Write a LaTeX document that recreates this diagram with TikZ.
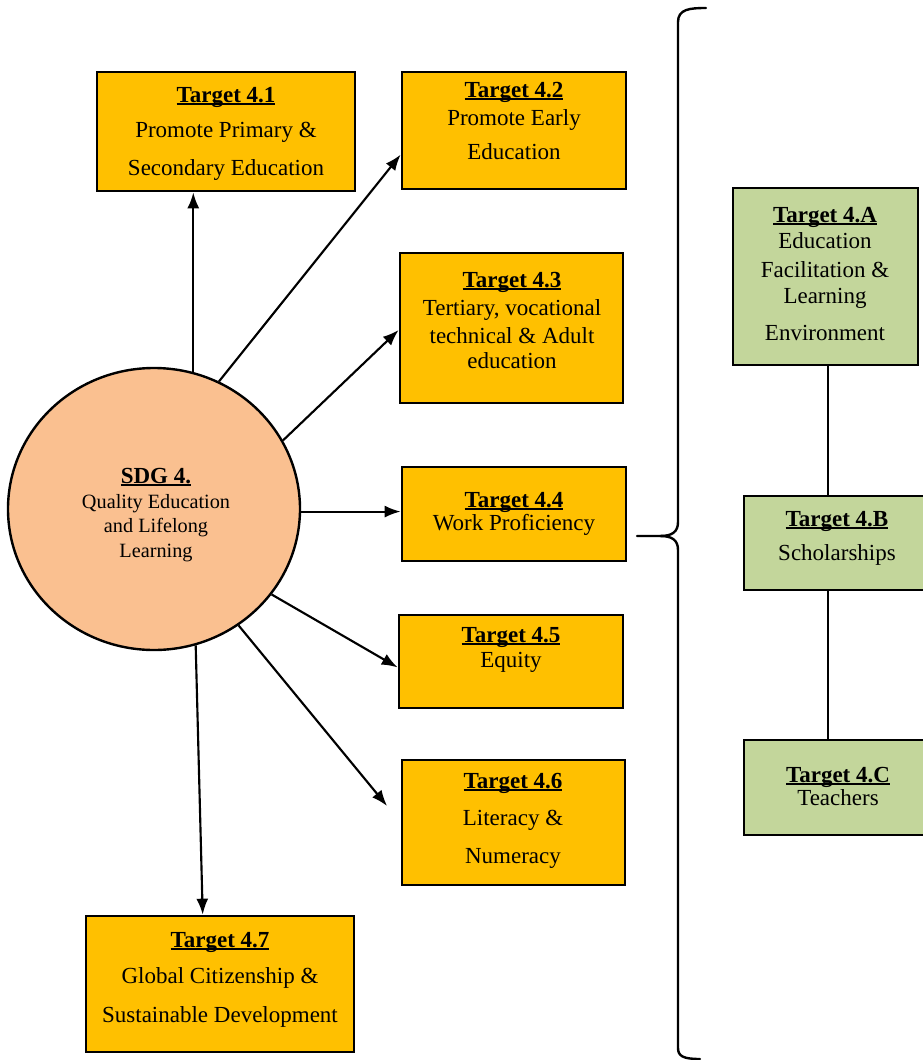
\documentclass[tikz,border=0pt]{standalone}
\usepackage{fontspec}
\setmainfont{LiberationSerif-Regular.ttf}[BoldFont=LiberationSerif-Bold.ttf]
\usetikzlibrary{arrows.meta,shapes.geometric}
\definecolor{goldfill}{HTML}{FFC000}
\definecolor{greenfill}{HTML}{C3D69B}
\definecolor{peachfill}{HTML}{FAC090}
\newsavebox\tulbox
\newcommand\tul[1]{\sbox\tulbox{#1}\rlap{\rule[-0.13em]{\wd\tulbox}{0.07em}}\usebox\tulbox}
\tikzset{
  wh/.style 2 args={minimum width=#1*0.75pt, minimum height=#2*0.75pt},
  ybox/.style={draw, line width=2pt, fill=goldfill, inner sep=0pt},
  gbox/.style={draw, line width=2pt, fill=greenfill, inner sep=0pt},
  ln/.style={anchor=base, inner sep=0pt, font=\fontsize{17.25}{20}\selectfont},
  ttl/.style={anchor=base, inner sep=0pt, font=\fontsize{17.25}{20}\selectfont\bfseries},
  sm/.style={anchor=base, inner sep=0pt, font=\fontsize{15.2}{18}\selectfont},
  arr/.style={line width=1.6pt, -{Latex[length=12pt,width=9pt]}},
  link/.style={line width=1.6pt},
  brace/.style={line width=1.8pt, line cap=round, line join=round},
}
\begin{document}
\begin{tikzpicture}[x=0.75pt, y=-0.75pt]
\useasboundingbox (0,0) rectangle (923,1060);
\clip (0,0) rectangle (923,1060);

% central circle
\node[ellipse, draw, line width=1.8pt, fill=peachfill, inner sep=0pt, wh={292}{282}] (sdg) at (154,509) {};
\node[ttl] (sdgh) at (156,483) {\tul{SDG 4.}};
\node[sm] (sdga) at (156,508) {Quality Education};
\node[sm] (sdgb) at (156,532) {and Lifelong};
\node[sm] (sdgc) at (156,557) {Learning};

% target boxes
\node[ybox, wh={258}{119}] (t1) at (226,131.5) {};
\node[ttl] (t1h) at (226,102) {\tul{Target 4.1}};
\node[ln] (t1a) at (226,137) {Promote Primary \&};
\node[ln] (t1b) at (226,175) {Secondary Education};

\node[ybox, wh={224}{117}] (t2) at (514,130.5) {};
\node[ttl] (t2h) at (514,97) {\tul{Target 4.2}};
\node[ln] (t2a) at (514,125) {Promote Early};
\node[ln] (t2b) at (514,159) {Education};

\node[ybox, wh={223}{150}] (t3) at (511.5,328) {};
\node[ttl] (t3h) at (512,287) {\tul{Target 4.3}};
\node[ln] (t3a) at (512,315) {Tertiary, vocational};
\node[ln] (t3b) at (512,343) {technical \& Adult};
\node[ln] (t3c) at (512,368) {education};

\node[ybox, wh={224}{94}] (t4) at (514,514) {};
\node[ttl] (t4h) at (514,507) {\tul{Target 4.4}};
\node[ln] (t4a) at (514,530) {Work Proficiency};

\node[ybox, wh={224}{93}] (t5) at (511,661.5) {};
\node[ttl] (t5h) at (511,642) {\tul{Target 4.5}};
\node[ln] (t5a) at (511,667) {Equity};

\node[ybox, wh={223}{125}] (t6) at (513.5,822.5) {};
\node[ttl] (t6h) at (513,788) {\tul{Target 4.6}};
\node[ln] (t6a) at (513,825) {Literacy \&};
\node[ln] (t6b) at (513,863) {Numeracy};

\node[ybox, wh={268}{136}] (t7) at (220,984) {};
\node[ttl] (t7h) at (220,947) {\tul{Target 4.7}};
\node[ln] (t7a) at (220,983) {Global Citizenship \&};
\node[ln] (t7b) at (220,1022) {Sustainable Development};

% green boxes
\node[gbox, wh={185}{177}] (tA) at (825.5,276.5) {};
\node[ttl] (tAh) at (825,222) {\tul{Target 4.A}};
\node[ln] (tAa) at (825,248) {Education};
\node[ln] (tAb) at (825,277) {Facilitation \&};
\node[ln] (tAc) at (825,303) {Learning};
\node[ln] (tAd) at (825,340) {Environment};

\node[gbox, wh={191}{94}] (tB) at (839.5,543) {};
\node[ttl] (tBh) at (837,526) {\tul{Target 4.B}};
\node[ln] (tBa) at (837,560) {Scholarships};

\node[gbox, wh={191}{95}] (tC) at (839.5,787.5) {};
\node[ttl] (tCh) at (838,782) {\tul{Target 4.C}};
\node[ln] (tCa) at (838,805) {Teachers};

% arrows from SDG 4
\draw[arr] (sdg.74) -- (sdg.74 |- t1.south);
\draw[arr] (sdg.63) -- (t2.192);
\draw[arr] (sdg.28) -- (t3.181);
\draw[arr] (sdg.-1) -- (sdg.-1 -| t4.west);
\draw[arr] (sdg.-36) -- (t5.183);
\draw[arr, shorten >=16pt] (sdg.-54.6) -- (t6.west);
\draw[arr] (sdg.-73.4) -- (t7.104);

% links between green boxes
\draw[link] (tA.south) ++(2.5,0) coordinate (ab1) -- (ab1 |- tB.north);
\draw[link] (ab1 |- tB.south) -- (ab1 |- tC.north);

% brace
\draw[brace] (706,8) .. controls (690,8) and (678,9) .. (678,22)
  -- (678,522) .. controls (678,532) and (672,536) .. (660,536) -- (637,536);
\draw[brace] (660,536) .. controls (672,536) and (678,540) .. (678,550)
  -- (678,1048) .. controls (678,1056) and (683,1059) .. (700,1059);
\end{tikzpicture}
\end{document}
